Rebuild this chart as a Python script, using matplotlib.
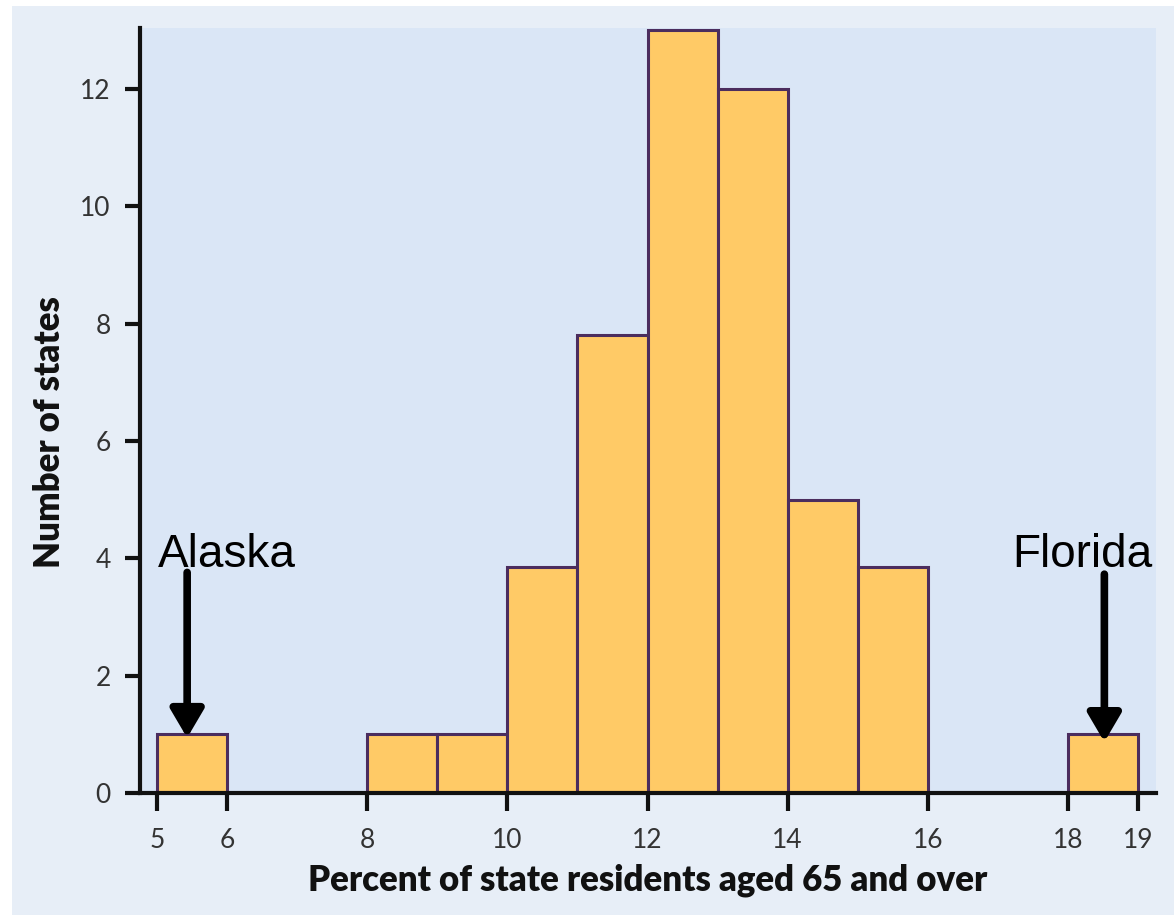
import matplotlib
matplotlib.use("Agg")
import matplotlib.pyplot as plt
from matplotlib.patches import Rectangle

# histogram of state residents aged 65+ (bins)
BIN_LEFT = [5, 8, 9, 10, 11, 12, 13, 14, 15, 18]
BIN_WIDTH = 1
COUNTS = [1, 1, 1, 3.85, 7.8, 13, 12, 5, 3.85, 1]
X_TICKS = [5, 6, 8, 10, 12, 14, 16, 18, 19]
Y_TICKS = [0, 2, 4, 6, 8, 10, 12]

# annotations: (label, text x, arrow x, arrow top, arrow tip)
CALLOUTS = [
    ("Alaska", 5.01, 5.43, 3.76, 0.94),
    ("Florida", 17.2, 18.52, 3.73, 0.87),
]

PANEL = "#dae6f6"
OUTER = "#e7eef7"
BAR_FILL = "#ffca66"
BAR_EDGE = "#4b2d5e"
TICK_FONT = ["Lato", "DejaVu Sans"]

fig = plt.figure(figsize=(11.74, 9.21), dpi=100, facecolor="white")
fig.patches.append(Rectangle((12 / 1174, 6 / 921), 1 - 12 / 1174, 1 - 12 / 921,
                             transform=fig.transFigure, facecolor=OUTER,
                             edgecolor="none", zorder=-10))

ax = fig.add_axes([140 / 1174, 1 - 793 / 921, (1156 - 140) / 1174, (793 - 28) / 921])
ax.set_facecolor(PANEL)

ax.bar(BIN_LEFT, COUNTS, width=BIN_WIDTH, align="edge", color=BAR_FILL,
       edgecolor=BAR_EDGE, linewidth=2.2, zorder=2)

ax.set_xlim(4.757, 19.257)
ax.set_ylim(0, 13.04)
ax.set_xticks(X_TICKS)
ax.set_yticks(Y_TICKS)

for side in ("top", "right"):
    ax.spines[side].set_visible(False)
for side in ("left", "bottom"):
    ax.spines[side].set_linewidth(3)
    ax.spines[side].set_color("#111111")
    ax.spines[side].set_zorder(3)

ax.tick_params(axis="x", length=13, width=3, color="#111111", pad=12)
ax.tick_params(axis="y", length=11, width=3, color="#111111", pad=10)
for lab in ax.get_xticklabels() + ax.get_yticklabels():
    lab.set_family(TICK_FONT)
    lab.set_fontsize(19)
    lab.set_color("#333333")

ax.set_xlabel("Percent of state residents aged 65 and over", family=["Lato", "DejaVu Sans"],
              fontsize=25, fontweight="heavy", color="#111111", labelpad=8)
ax.set_ylabel("Number of states", family=["Lato", "DejaVu Sans"],
              fontsize=25, fontweight="heavy", color="#111111")
ax.yaxis.set_label_coords(-0.073, 0.472)

for label, tx, ax_x, y_top, y_tip in CALLOUTS:
    ax.text(tx, 3.85, label, family=["Liberation Sans", "DejaVu Sans"], fontsize=33,
            ha="left", va="baseline", color="black", zorder=5)
    ax.annotate("", xy=(ax_x, y_tip), xytext=(ax_x, y_top),
                arrowprops=dict(arrowstyle="-|>,head_length=0.85,head_width=0.5",
                                mutation_scale=20, lw=5.5, color="black",
                                shrinkA=0, shrinkB=0), zorder=5)

fig.savefig("out.png", dpi=100, facecolor=fig.get_facecolor())
